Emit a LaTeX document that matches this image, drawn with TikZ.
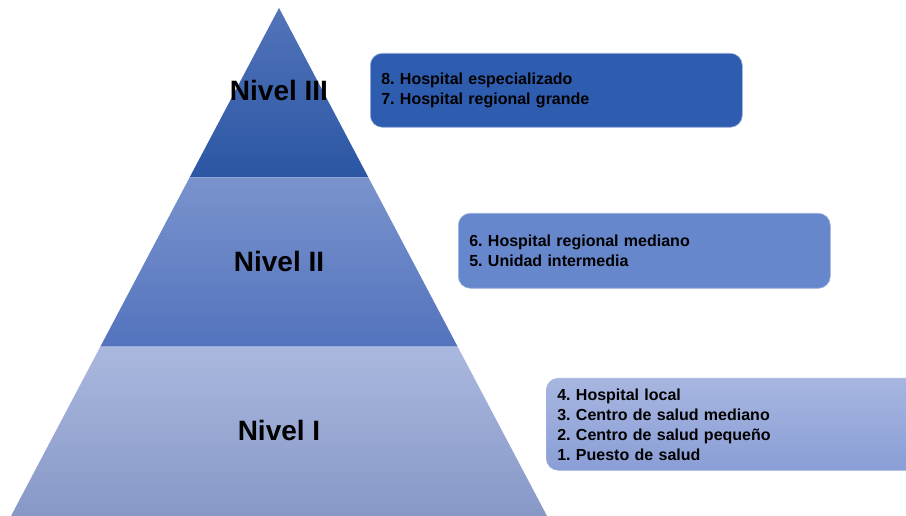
\documentclass[tikz,border=0pt]{standalone}
\usepackage{fontspec}
\setmainfont{Liberation Sans}
\usetikzlibrary{calc,positioning}
\definecolor{topA}{HTML}{5274BA}
\definecolor{topB}{HTML}{2B56A4}
\definecolor{midA}{HTML}{7A93CD}
\definecolor{midB}{HTML}{5373BD}
\definecolor{lowA}{HTML}{AAB8DF}
\definecolor{lowB}{HTML}{8798C7}
\definecolor{boxTop}{HTML}{2E5CAF}
\definecolor{boxMid}{HTML}{6787CC}
\definecolor{boxLowA}{HTML}{A7B6E0}
\definecolor{boxLowB}{HTML}{8A9ED6}
\definecolor{boxedge}{HTML}{9FB2DE}
\frenchspacing
\newcommand{\infofont}{\fontsize{16}{20}\selectfont\bfseries\frenchspacing
  \spaceskip=5.5pt plus 1pt\relax}

\begin{document}
\begin{tikzpicture}[x=1pt, y=1pt,
  lvl/.style={font=\fontsize{28}{30}\selectfont\bfseries},
  info/.style={draw=boxedge, line width=0.6pt, rounded corners=12pt,
    anchor=north west, align=left, inner xsep=11pt, inner ysep=0pt,
    font=\infofont}]
\useasboundingbox (0,0) rectangle (906,516);
% pyramid corners
\coordinate (apex) at (279,508);
\coordinate (bl) at (11,0);
\coordinate (br) at (547,0);
\coordinate (l1) at ($(apex)!1/3!(bl)$);
\coordinate (r1) at ($(apex)!1/3!(br)$);
\coordinate (l2) at ($(apex)!2/3!(bl)$);
\coordinate (r2) at ($(apex)!2/3!(br)$);
% three levels
\shade[top color=topA, bottom color=topB] (apex) -- (r1) -- (l1) -- cycle;
\shade[top color=midA, bottom color=midB] (l1) -- (r1) -- (r2) -- (l2) -- cycle;
\shade[top color=lowA, bottom color=lowB] (l2) -- (r2) -- (br) -- (bl) -- cycle;
\node[lvl] (n3) at (279,425) {Nivel III};
\node[lvl] (n2) at (279,255) {Nivel II};
\node[lvl] (n1) at (279,86) {Nivel I};
% establishments per level
\node[info, fill=boxTop, text width=350pt, minimum height=74pt]
  (b3) at (370,463) {8. Hospital especializado\\7. Hospital regional grande};
\node[info, fill=boxMid, text width=350pt, minimum height=75pt]
  (b2) at (458,303) {6. Hospital regional mediano\\5. Unidad intermedia};
\node[info, top color=boxLowA, bottom color=boxLowB,
  text width=358pt, minimum height=92pt]
  (b1) at (546,138) {4. Hospital local\\3. Centro de salud mediano\\
    2. Centro de salud pequeño\\1. Puesto de salud};
\end{tikzpicture}
\end{document}
